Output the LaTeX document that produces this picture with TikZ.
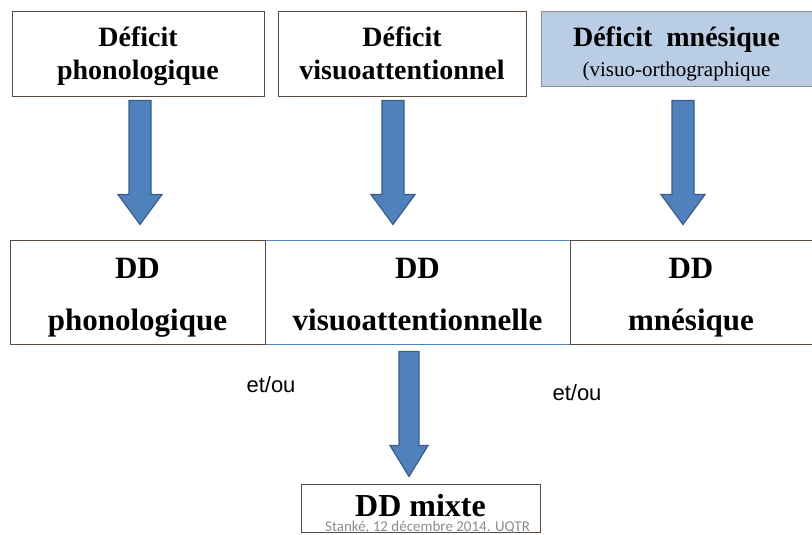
\documentclass[tikz,border=0pt]{standalone}
\usepackage{fontspec}
\setmainfont{Liberation Serif}
\newfontfamily\arialfont{Liberation Sans}
\newfontfamily\calibrifont{Carlito}
\usepackage{xcolor}
\usetikzlibrary{positioning,calc}
\definecolor{brownline}{HTML}{5B4A3C}
\definecolor{grayline}{HTML}{8C8C8C}
\definecolor{steelblue}{HTML}{4F81BD}
\definecolor{darksteel}{HTML}{385D8A}
\definecolor{paleblue}{HTML}{B9CDE5}
\definecolor{footgray}{HTML}{8C8C8C}
% fat block arrow: start, end (height only), half shaft, half head, head length
\newcommand{\fatarrow}[5]{%
  \filldraw[blockarrow] ($(#1)+(-#3,0)$) -- ($(#1|-#2)+(-#3,-#5)$)
    -- ($(#1|-#2)+(-#4,-#5)$) -- (#1|-#2) -- ($(#1|-#2)+(#4,-#5)$)
    -- ($(#1|-#2)+(#3,-#5)$) -- ($(#1)+(#3,0)$) -- cycle;}
% fixed line heights so that all boxes set their text alike
\newcommand{\tophi}{\rule{0pt}{26pt}}
\newcommand{\toplo}{\rule[-8pt]{0pt}{8pt}}
\newcommand{\ddhi}{\rule{0pt}{32pt}}
\newcommand{\ddlo}{\rule[-8pt]{0pt}{8pt}}

\begin{document}
\begin{tikzpicture}[x=1pt,y=-1pt,
 deficit/.style={draw=brownline,line width=1,fill=white,align=center,inner sep=0pt,
   minimum height=85,font=\bfseries\fontsize{28}{33}\selectfont},
 ddbox/.style={draw=brownline,line width=1,align=center,inner sep=0pt,
   minimum height=104,font=\bfseries\fontsize{31}{52}\selectfont},
 blockarrow/.style={fill=steelblue,draw=darksteel,line width=1.2},
 etou/.style={font=\arialfont\fontsize{22}{26}\selectfont}]
\useasboundingbox (0,0) rectangle (812,535);
\node[deficit,minimum width=252] (phono) at (138,54.5) {\tophi Déficit\\phonologique\toplo};
\node[deficit,minimum width=248] (visuo) at (402,54.5) {\tophi Déficit\\visuoattentionnel\toplo};
\node[deficit,draw=grayline,fill=paleblue,minimum width=271,minimum height=75] (mnes) at (676.5,49.5)
  {\rule{0pt}{32pt}Déficit\hspace{0.5em}mnésique\\[-3pt]{\mdseries\fontsize{21}{24}\selectfont(visuo-orthographique\toplo}};
\node[ddbox,draw=steelblue,minimum width=305] (ddvisuo) at (417.5,292) {\ddhi DD\\visuoattentionnelle\ddlo};
\node[ddbox,minimum width=255] (ddphono) at (137.5,292) {\ddhi DD\\phonologique\ddlo};
\node[ddbox,minimum width=242] (ddmnes) at (691,292) {\ddhi DD\\mnésique\ddlo};
\node[draw=brownline,line width=1,minimum width=239,minimum height=48,inner sep=0pt,
  font=\bfseries\fontsize{32}{36}\selectfont] (mixte) at (420.5,508) {\raisebox{6pt}{DD mixte}};
\node[etou] (etou1) at (271,385) {et/ou};
\node[etou] (etou2) at (577,393) {et/ou};
\node[font=\calibrifont\fontsize{15}{18}\selectfont,text=footgray,inner sep=1pt] (foot) at (427.5,527)
  {Stanké, 12 décembre 2014. UQTR};
\coordinate (s1) at ($(phono.south)+(2,3)$);
\coordinate (s2) at ($(visuo.south)+(-9,3)$);
\coordinate (s3) at ($(mnes.south)+(6.5,13)$);
\coordinate (s4) at ($(ddvisuo.south)+(-8.5,7)$);
\coordinate (e1) at ($(ddphono.north)+(0,-15)$);
\coordinate (e2) at ($(ddvisuo.north)+(0,-15)$);
\coordinate (e3) at ($(ddmnes.north)+(0,-15)$);
\coordinate (e4) at ($(mixte.north)+(0,-7)$);
\fatarrow{s1}{e1}{11}{22}{30}
\fatarrow{s2}{e2}{11}{22}{30}
\fatarrow{s3}{e3}{11}{22}{30}
\fatarrow{s4}{e4}{10}{19}{31}
\end{tikzpicture}
\end{document}
